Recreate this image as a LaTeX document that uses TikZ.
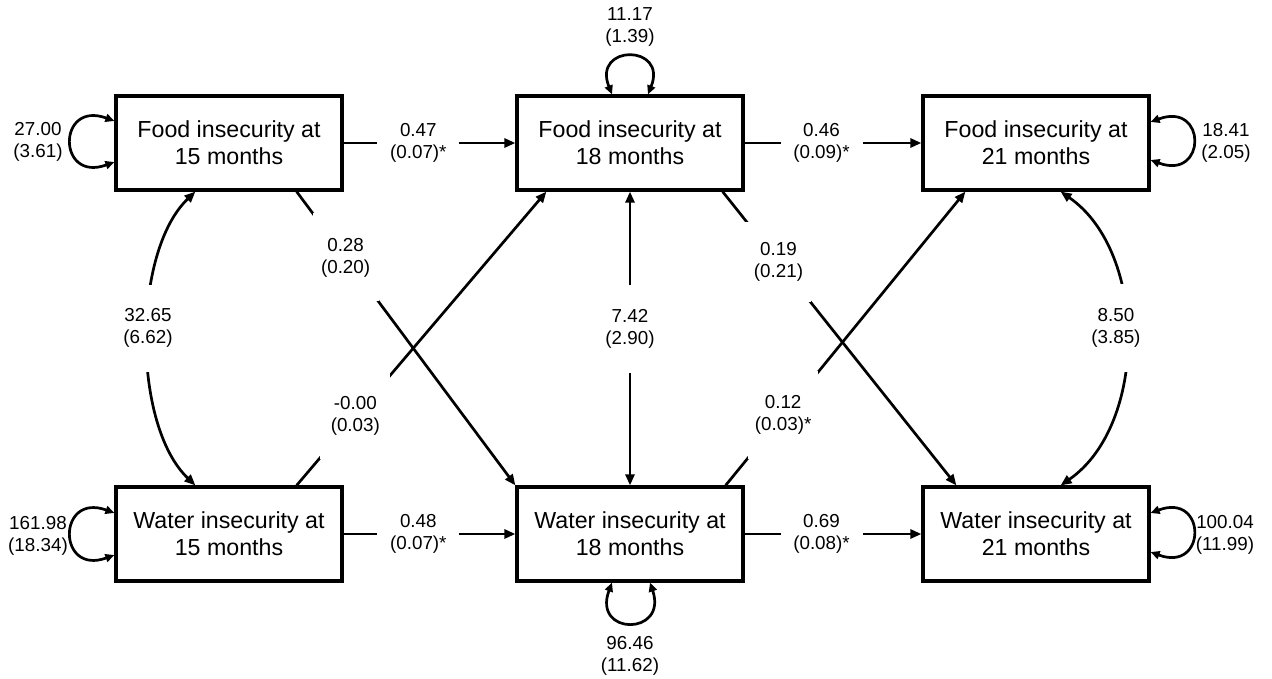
\documentclass[tikz,border=0pt]{standalone}
\usepackage{fontspec}
\setmainfont{Liberation Sans}
\usetikzlibrary{arrows.meta,calc}
\begin{document}
\begin{tikzpicture}[x=1pt,y=-1pt,
  box/.style={draw, line width=3.2pt, minimum width=226pt, minimum height=94pt, align=center, inner sep=0pt, font=\fontsize{23.2}{27}\selectfont},
  tip/.tip={Triangle[length=11pt,width=9pt]},
  conn/.style={line width=2.7pt, -tip},
  cov/.style={line width=2.7pt, tip-tip},
  loopst/.style={line width=2.7pt, {Triangle[length=9pt,width=8pt]}-{Triangle[length=9pt,width=8pt]}},
  lab/.style={font=\fontsize{18.8}{22}\selectfont, align=center, fill=white, inner sep=0pt},
  numlab/.style={font=\fontsize{18.8}{22}\selectfont, align=center, inner sep=0pt},
]
\useasboundingbox (0,0) rectangle (1272,679);

% boxes
\node[box] (F15) at (229,143) {Food insecurity at\\15 months};
\node[box] (F18) at (630,143) {Food insecurity at\\18 months};
\node[box] (F21) at (1036,143) {Food insecurity at\\21 months};
\node[box] (W15) at (229,534) {Water insecurity at\\15 months};
\node[box] (W18) at (630,534) {Water insecurity at\\18 months};
\node[box] (W21) at (1036,534) {Water insecurity at\\21 months};

% horizontal paths
\draw[conn] (F15.east) -- node[lab, pos=0.435, minimum width=82pt] {0.47\\(0.07)*} (F18.west);
\draw[conn] (F18.east) -- node[lab, pos=0.435, minimum width=82pt] {0.46\\(0.09)*} (F21.west);
\draw[conn] (W15.east) -- node[lab, pos=0.435, minimum width=82pt] {0.48\\(0.07)*} (W18.west);
\draw[conn] (W18.east) -- node[lab, pos=0.435, minimum width=82pt] {0.69\\(0.08)*} (W21.west);

% vertical covariance
\draw[cov] (F18.south) -- node[lab, pos=0.468, minimum height=88pt] {7.42\\(2.90)} (W18.north);

% cross-lagged paths
\draw[conn] ($(F15.south east)+(-47,0)$) -- node[lab, pos=0.224, minimum width=66pt, minimum height=88pt] {0.28\\(0.20)} (W18.north west);
\draw[conn] ($(W15.north east)+(-47,0)$) -- node[lab, pos=0.235, minimum width=70pt, minimum height=86pt] {-0.00\\(0.03)} ($(F18.south west)+(31,0)$);
\draw[conn] ($(F18.south east)+(-22,0)$) -- node[lab, pos=0.239, minimum width=66pt, minimum height=80pt] {0.19\\(0.21)} ($(W21.north west)+(35,0)$);
\draw[conn] ($(W18.north east)+(-19,0)$) -- node[lab, pos=0.24, minimum width=70pt, minimum height=88pt] {0.12\\(0.03)*} ($(F21.south west)+(44,0)$);

% side covariances
\draw[cov] ($(F15.south west)+(81,0)$) .. controls (132,252) and (132,425) .. ($(W15.north west)+(81,0)$)
  node[lab, pos=0.47, minimum height=87pt, minimum width=50pt] {32.65\\(6.62)};
\draw[cov] ($(F21.south east)+(-90,0)$) .. controls (1148,252) and (1148,425) .. ($(W21.north east)+(-90,0)$)
  node[lab, pos=0.47, minimum height=88pt, minimum width=56pt, xshift=-10pt] {8.50\\(3.85)};

% residual variances
\draw[loopst] ($(F15.west)+(0,-22)$) .. controls (57,100) and (57,183) .. ($(F15.west)+(0,19)$);
\node[numlab] (vF15) at (38,142) {27.00\\(3.61)};
\draw[loopst] ($(W15.west)+(0,-21)$) .. controls (57,492) and (57,576) .. ($(W15.west)+(0,21)$);
\node[numlab] (vW15) at (38,536) {161.98\\(18.34)};
\draw[loopst] ($(F18.north)+(-18,0)$) .. controls (592,44) and (668,44) .. ($(F18.north)+(18,0)$);
\node[numlab] (vF18) at (630,27) {11.17\\(1.39)};
\draw[loopst] ($(W18.south)+(-18,0)$) .. controls (592,636) and (668,636) .. ($(W18.south)+(20,0)$);
\node[numlab] (vW18) at (630,656) {96.46\\(11.62)};
\draw[loopst] ($(F21.east)+(0,-21)$) .. controls (1207,101) and (1207,181) .. ($(F21.east)+(0,17)$);
\node[numlab] (vF21) at (1226,143) {18.41\\(2.05)};
\draw[loopst] ($(W21.east)+(0,-21)$) .. controls (1207,492) and (1207,573) .. ($(W21.east)+(0,18)$);
\node[numlab] (vW21) at (1225,535) {100.04\\(11.99)};
\end{tikzpicture}
\end{document}
